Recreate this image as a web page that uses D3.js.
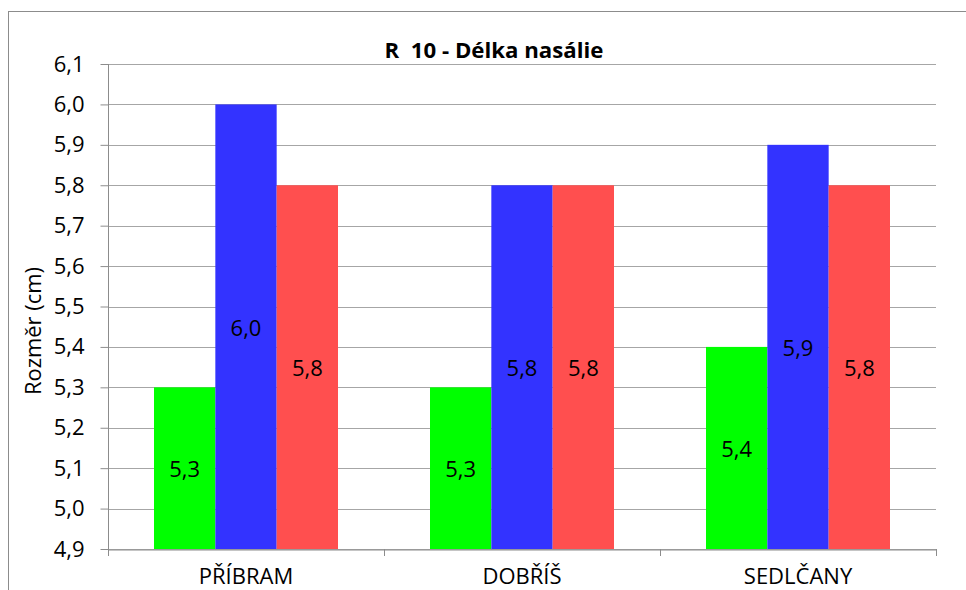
<!DOCTYPE html>
<html><head><meta charset="utf-8">
<script src="https://cdn.jsdelivr.net/npm/d3@7"></script>
<style>body{margin:0;background:#fff}svg{display:block}text{font-family:"Open Sans",Lato,sans-serif}</style>
</head><body>
<svg id="c" width="966" height="590"></svg>
<script>
const categories = ["PŘÍBRAM", "DOBŘÍŠ", "SEDLČANY"];
const seriesNames = ["s1", "s2", "s3"];
const series1 = [5.3, 5.3, 5.4];
const series2 = [6.0, 5.8, 5.9];
const series3 = [5.8, 5.8, 5.8];
const yTicks = [4.9, 5.0, 5.1, 5.2, 5.3, 5.4, 5.5, 5.6, 5.7, 5.8, 5.9, 6.0, 6.1];
const colors = ["#00ff00", "#3333ff", "#ff4f4f"];
const title = "R  10 - Délka nasálie";
const yTitle = "Rozměr (cm)";
const FONT = "'Open Sans',Lato,sans-serif";

const svg = d3.select("#c");
svg.append("rect").attr("x", 8.5).attr("y", 11.5).attr("width", 970).attr("height", 600)
  .attr("fill", "#fff").attr("stroke", "#8c8c8c").attr("stroke-width", 1);

const L = 108, R = 936, T = 64, B = 549;
const x = d3.scaleBand().domain(categories).range([L, R]).paddingInner(0).paddingOuter(0);
const y = d3.scaleLinear().domain([4.9, 6.1]).range([B, T]);
const fmt = v => d3.format(".1f")(v).replace(".", ",");

// grid
svg.append("g").selectAll("line").data(yTicks).join("line")
  .attr("x1", L).attr("x2", R).attr("y1", d => Math.round(y(d)) + 0.5).attr("y2", d => Math.round(y(d)) + 0.5)
  .attr("stroke", "#a6a6a6").attr("stroke-width", 1);

const data = categories.map((c, i) => ({c, vals: [series1[i], series2[i], series3[i]]}));
const inner = d3.scaleBand().domain(seriesNames).range([0, x.bandwidth()]).paddingOuter(0.75).paddingInner(0);

const g = svg.append("g");
data.forEach(d => {
  d.vals.forEach((v, j) => {
    const bx = x(d.c) + inner(seriesNames[j]);
    g.append("rect").attr("x", bx).attr("y", y(v)).attr("width", inner.bandwidth()).attr("height", B - y(v))
      .attr("fill", colors[j]);
    g.append("text").attr("x", bx + inner.bandwidth() / 2).attr("y", (y(v) + B) / 2)
      .attr("text-anchor", "middle").attr("dominant-baseline", "central")
      .attr("font-size", 22).attr("fill", "#000").text(fmt(v));
  });
});

// y axis
const ya = svg.append("g").attr("transform", `translate(${L + 0.5},0)`)
  .call(d3.axisLeft(y).tickValues(yTicks).tickSize(8).tickPadding(16).tickFormat(fmt));
ya.select(".domain").attr("stroke", "#8c8c8c").attr("d", `M-0,${T}V${B}`);
ya.selectAll(".tick line").attr("stroke", "#8c8c8c");
ya.selectAll(".tick text").attr("font-size", 22).attr("fill", "#000").attr("font-family", FONT);

// x axis
const xa = svg.append("g").attr("transform", `translate(0,${B + 0.5})`)
  .call(d3.axisBottom(x).tickSize(0).tickPadding(0));
xa.select(".domain").attr("stroke", "#8c8c8c");
xa.selectAll(".tick text").attr("font-size", 22).attr("fill", "#000").attr("font-family", FONT)
  .attr("dy", null).attr("y", 34);
svg.append("g").selectAll("line").data([...categories.map(c => x(c)), R]).join("line")
  .attr("x1", d => Math.round(d) + 0.5).attr("x2", d => Math.round(d) + 0.5)
  .attr("y1", B).attr("y2", B + 7).attr("stroke", "#8c8c8c");

// titles
const t = svg.append("text").attr("x", 494).attr("y", 58).attr("text-anchor", "middle")
  .style("white-space", "pre").attr("xml:space", "preserve")
  .attr("font-size", 19).attr("font-weight", "bold").attr("fill", "#000").text(title);
const tw = t.node().getComputedTextLength();
t.attr("font-size", 19 * 219 / tw);
const yt = svg.append("text").attr("transform", "translate(41,331) rotate(-90)").attr("text-anchor", "middle")
  .attr("font-size", 20).attr("fill", "#000").text(yTitle);
const yw = yt.node().getComputedTextLength();
yt.attr("font-size", 20 * 128 / yw);
</script>
</body></html>
